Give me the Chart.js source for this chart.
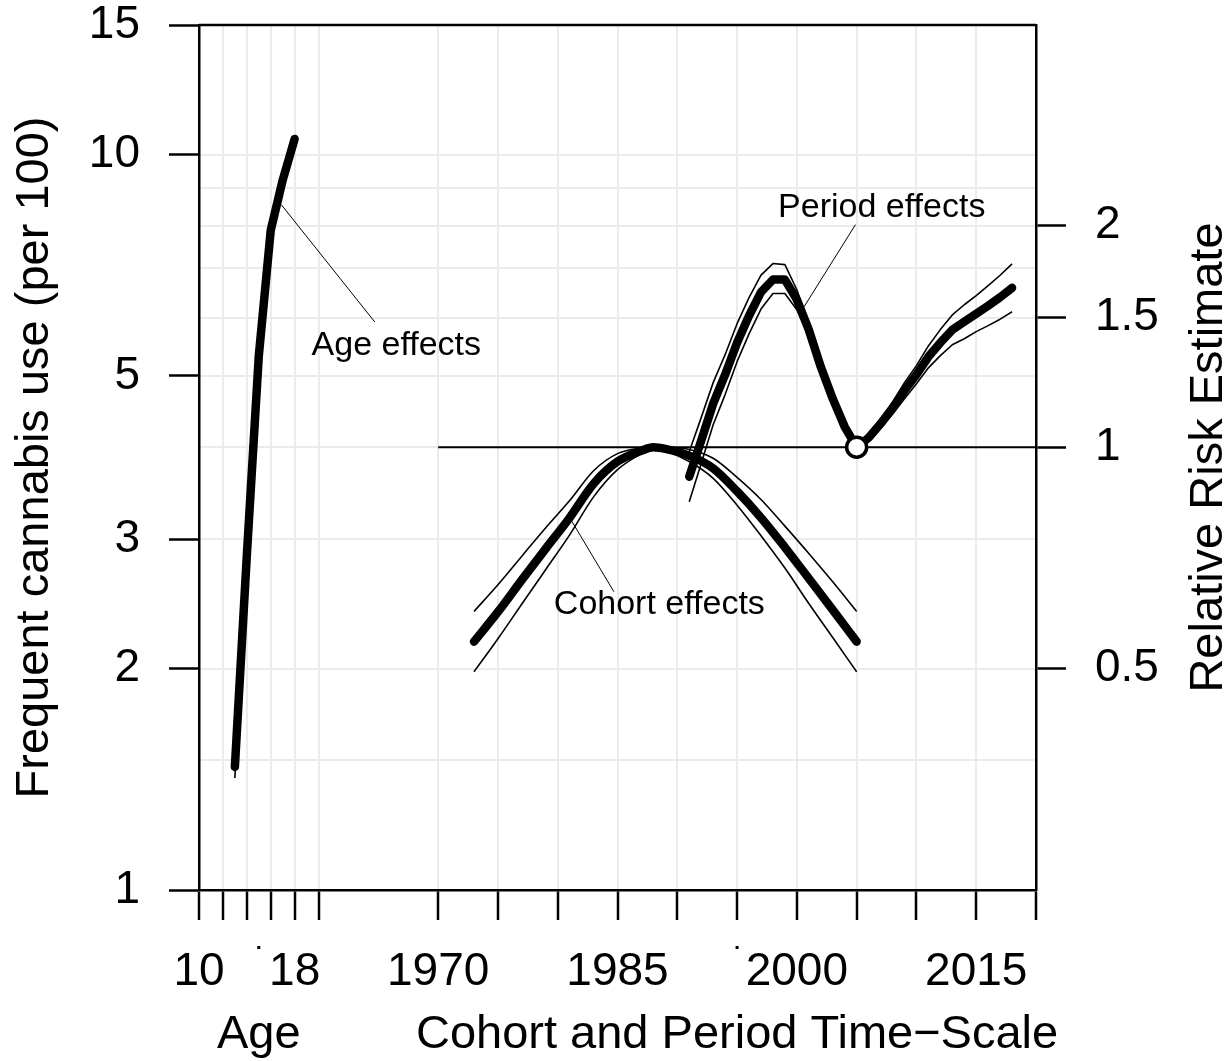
<!DOCTYPE html>
<html lang="en">
<head>
    <meta charset="UTF-8">
    <title>Age, period and cohort effects</title>
    <style>
        body { margin: 0; background: #fff; }
        #wrap { width: 1231px; height: 1061px; }
    </style>
</head>
<body>
    <div id="wrap"><canvas id="chart"></canvas></div>

    <script src="https://cdn.jsdelivr.net/npm/chart.js"></script>
    <script>
        // Age effects (left axis, per 100)
        const ages = [13, 14, 15, 16, 17, 18];
        const ageEffect = [1.47, 2.85, 5.32, 7.89, 9.23, 10.5];
        const ageUpper = [1.50, 2.91, 5.42, 8.02, 9.36, 10.6];
        const ageLower = [1.42, 2.79, 5.22, 7.76, 9.10, 10.4];

        // Cohort effects (right axis, relative risk)
        const cohortYears = [1973, 1975, 1977, 1979, 1981, 1983, 1985, 1987, 1988, 1989, 1991, 1993, 1995, 1997, 1999, 2001, 2003, 2005];
        const cohortRR = [0.544, 0.597, 0.660, 0.728, 0.802, 0.892, 0.956, 0.989, 1.000, 0.995, 0.974, 0.936, 0.871, 0.802, 0.731, 0.663, 0.601, 0.544];
        const cohortUpper = [0.598, 0.650, 0.711, 0.777, 0.846, 0.929, 0.980, 0.998, 1.003, 1.001, 0.993, 0.966, 0.910, 0.849, 0.781, 0.717, 0.656, 0.598];
        const cohortLower = [0.495, 0.549, 0.612, 0.682, 0.760, 0.856, 0.932, 0.980, 0.997, 0.989, 0.956, 0.907, 0.834, 0.758, 0.685, 0.613, 0.551, 0.495];

        // Period effects (right axis, relative risk), reference year 2005
        const periodYears = [1991, 1992, 1993, 1994, 1995, 1996, 1997, 1998, 1999, 2000, 2001, 2002, 2003, 2004,
                             2005, 2006, 2007, 2008, 2009, 2010, 2011, 2012, 2013, 2014, 2015, 2016, 2017, 2018];
        const periodRR = [0.912, 1.021, 1.146, 1.255, 1.387, 1.509, 1.625, 1.690, 1.690, 1.587, 1.444, 1.286, 1.164, 1.066,
                          1.000, 1.030, 1.076, 1.130, 1.194, 1.255, 1.327, 1.387, 1.444, 1.481, 1.519, 1.557, 1.599, 1.647];
        const periodUpper = [0.986, 1.097, 1.224, 1.336, 1.472, 1.597, 1.714, 1.777, 1.771, 1.637, 1.471, 1.302, 1.175, 1.073,
                             1.000, 1.036, 1.090, 1.151, 1.224, 1.291, 1.373, 1.445, 1.513, 1.562, 1.607, 1.658, 1.713, 1.775];
        const periodLower = [0.843, 0.950, 1.073, 1.179, 1.307, 1.426, 1.541, 1.618, 1.618, 1.538, 1.417, 1.270, 1.153, 1.059,
                             1.000, 1.024, 1.063, 1.109, 1.164, 1.220, 1.282, 1.332, 1.378, 1.404, 1.436, 1.463, 1.493, 1.528];

        const refYears = [1970, 2020];
        const refRR = [1, 1];
        const markerYears = [2005];
        const markerRR = [1];

        // Axis ticks (age and calendar time share one axis: age 10 sits at 1950)
        const AGE_SHIFT = 1940;
        const xTickValues = [1950, 1952, 1954, 1956, 1958, 1960, 1970, 1975, 1980, 1985, 1990, 1995, 2000, 2005, 2010, 2015, 2020];
        const xTickLabels = ['10', '', '', '', '18', '', '1970', '', '', '1985', '', '', '2000', '', '', '2015', ''];
        const leftTicks = [1, 2, 3, 5, 10, 15];
        const rightTicks = [0.5, 1, 1.5, 2];
        const gridValues = [1.5, 2, 3, 4, 5, 6, 7, 8, 9, 10];

        const FONT = "'Liberation Sans', Arial, sans-serif";
        Chart.defaults.font.family = FONT;
        Chart.defaults.color = '#000';

        function pts(xs, ys, shift) {
            return xs.map((x, i) => ({ x: x + (shift || 0), y: ys[i] }));
        }

        function thick(data, axis, smooth) {
            return {
                data: data, yAxisID: axis, borderColor: '#000', borderWidth: 8.5,
                pointRadius: 0, borderCapStyle: 'round', borderJoinStyle: 'round',
                cubicInterpolationMode: smooth ? 'monotone' : 'default', fill: false
            };
        }
        function thin(data, axis, smooth) {
            return {
                data: data, yAxisID: axis, borderColor: '#000', borderWidth: 1.6,
                pointRadius: 0, borderJoinStyle: 'round',
                cubicInterpolationMode: smooth ? 'monotone' : 'default', fill: false
            };
        }

        // fixed axis boxes so the plot area lands where the reference has it
        function fixWidth(w) {
            return s => { s.width = w; s.paddingTop = 0; s.paddingBottom = 0; };
        }

        // grille horizontale, cadre, titres, annotations
        const decor = {
            id: 'decor',
            beforeDraw(chart) {
                const { ctx, chartArea: a, scales } = chart;
                ctx.save();
                ctx.fillStyle = '#fff';
                ctx.fillRect(0, 0, chart.width, chart.height);
                ctx.strokeStyle = '#ebebeb';
                ctx.lineWidth = 2;
                gridValues.forEach(v => {
                    const y = Math.round(scales.y.getPixelForValue(v));
                    ctx.beginPath();
                    ctx.moveTo(a.left, y);
                    ctx.lineTo(a.right, y);
                    ctx.stroke();
                });
                ctx.restore();
            },
            afterDraw(chart) {
                const { ctx, chartArea: a, scales } = chart;
                const xs = scales.x, yl = scales.y, yr = scales.y2;
                ctx.save();

                // top frame
                ctx.strokeStyle = '#000';
                ctx.lineWidth = 2.5;
                ctx.beginPath();
                ctx.moveTo(a.left, a.top);
                ctx.lineTo(a.right, a.top);
                ctx.stroke();

                // small dots under the axis
                ctx.fillStyle = '#000';
                [1955, 1995].forEach(v => ctx.fillRect(xs.getPixelForValue(v) - 1.5, 946, 3, 3));

                // axis titles
                ctx.font = '47px ' + FONT;
                ctx.textBaseline = 'alphabetic';
                ctx.textAlign = 'center';
                const mid = (a.top + a.bottom) / 2;
                ctx.save();
                ctx.translate(48, mid);
                ctx.rotate(-Math.PI / 2);
                ctx.fillText('Frequent cannabis use (per 100)', 0, 0);
                ctx.restore();
                ctx.save();
                ctx.translate(1222, mid);
                ctx.rotate(-Math.PI / 2);
                ctx.fillText('Relative Risk Estimate', 0, 0);
                ctx.restore();
                ctx.fillText('Age', xs.getPixelForValue(15 + AGE_SHIFT), 1048);
                ctx.fillText('Cohort and Period Time\u2212Scale', xs.getPixelForValue(1995), 1048);

                // annotations with leader lines
                ctx.lineWidth = 1;
                const lead = (x1, y1, s1, x2, y2, s2) => {
                    ctx.beginPath();
                    ctx.moveTo(xs.getPixelForValue(x1), s1.getPixelForValue(y1));
                    ctx.lineTo(xs.getPixelForValue(x2), s2.getPixelForValue(y2));
                    ctx.stroke();
                };
                lead(1964.7, 5.92, yl, 1956.9, 8.54, yl);
                lead(2004.9, 2.007, yr, 2000.6, 1.552, yr);
                lead(1984.7, 0.636, yr, 1981.2, 0.792, yr);

                ctx.font = '34px ' + FONT;
                ctx.textBaseline = 'middle';
                ctx.fillText('Age effects', xs.getPixelForValue(1966.5), yl.getPixelForValue(5.49));
                ctx.fillText('Period effects', xs.getPixelForValue(2007.1), yr.getPixelForValue(2.12));
                ctx.fillText('Cohort effects', xs.getPixelForValue(1988.5), yr.getPixelForValue(0.611));
                ctx.restore();
            }
        };

        const tickFont = { size: 46, lineHeight: 1 };

        new Chart(document.getElementById('chart'), {
            type: 'line',
            data: {
                datasets: [
                    {
                        data: pts(markerYears, markerRR), yAxisID: 'y2', showLine: false,
                        pointRadius: 10, pointBorderWidth: 3.5, pointBackgroundColor: '#fff', pointBorderColor: '#000'
                    },
                    thick(pts(periodYears, periodRR), 'y2', false),
                    thick(pts(cohortYears, cohortRR), 'y2', true),
                    thick(pts(ages, ageEffect, AGE_SHIFT), 'y', false),
                    thin(pts(periodYears, periodUpper), 'y2', false),
                    thin(pts(periodYears, periodLower), 'y2', false),
                    thin(pts(cohortYears, cohortUpper), 'y2', true),
                    thin(pts(cohortYears, cohortLower), 'y2', true),
                    thin(pts(ages, ageUpper, AGE_SHIFT), 'y', false),
                    thin(pts(ages, ageLower, AGE_SHIFT), 'y', false),
                    { data: pts(refYears, refRR), yAxisID: 'y2', borderColor: '#000', borderWidth: 2, pointRadius: 0 }
                ]
            },
            options: {
                responsive: true,
                maintainAspectRatio: false,
                animation: false,
                events: [],
                layout: { padding: { top: 25, left: 0, right: 0, bottom: 0 } },
                plugins: { legend: { display: false }, tooltip: { enabled: false } },
                scales: {
                    x: {
                        type: 'linear', min: 1950, max: 2020,
                        afterBuildTicks: s => { s.ticks = xTickValues.map(v => ({ value: v })); },
                        afterFit: s => { s.height = 171; s.paddingLeft = 0; s.paddingRight = 0; },
                        ticks: {
                            autoSkip: false, maxRotation: 0, minRotation: 0, padding: 29, font: tickFont, color: '#000',
                            callback: v => xTickLabels[xTickValues.indexOf(v)] || ''
                        },
                        grid: { color: '#ebebeb', lineWidth: 2, tickColor: '#000', tickWidth: 2.5, tickLength: 30 },
                        border: { color: '#000', width: 2.5 }
                    },
                    y: {
                        type: 'logarithmic', position: 'left', min: 1, max: 15,
                        afterBuildTicks: s => { s.ticks = leftTicks.map(v => ({ value: v })); },
                        afterFit: fixWidth(199),
                        ticks: { padding: 29, font: tickFont, color: '#000', callback: v => String(v) },
                        grid: { drawOnChartArea: false, tickColor: '#000', tickWidth: 2.5, tickLength: 30 },
                        border: { color: '#000', width: 2.5 }
                    },
                    y2: {
                        type: 'logarithmic', position: 'right', min: 0.25, max: 3.75,
                        afterBuildTicks: s => { s.ticks = rightTicks.map(v => ({ value: v })); },
                        afterFit: fixWidth(195),
                        ticks: { padding: 29, font: tickFont, color: '#000', callback: v => String(v) },
                        grid: { drawOnChartArea: false, tickColor: '#000', tickWidth: 2.5, tickLength: 30 },
                        border: { color: '#000', width: 2.5 }
                    }
                }
            },
            plugins: [decor]
        });
    </script>
</body>
</html>
